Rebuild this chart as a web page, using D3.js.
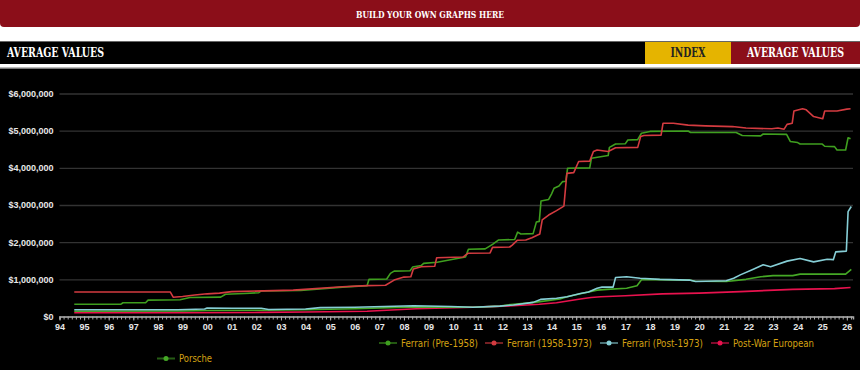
<!DOCTYPE html>
<html>
<head>
    <meta charset="utf-8">
    <script src="https://d3js.org/d3.v7.min.js"></script>
    <style>
        body { margin: 0; background: #fff; }
        svg { display: block; }
    </style>
</head>
<body>
    <div id="chart"></div>

    <script>
        // series names (legend order)
        const seriesNames = ['Ferrari (Pre-1958)', 'Ferrari (1958-1973)', 'Ferrari (Post-1973)', 'Post-War European', 'Porsche'];

        // [decimal year, average value in $]
        const ferrariPre1958 = [
            [1994.6, 330000], [1996.5, 330000], [1996.58, 370000], [1997.5, 370000], [1997.6, 440000],
            [1998.9, 450000], [1999.3, 510000], [2000.55, 520000], [2000.75, 600000], [2001.5, 620000],
            [2002.1, 640000], [2002.2, 690000], [2003.8, 700000], [2005.5, 790000], [2006.5, 830000],
            [2006.58, 1000000], [2007.3, 1010000], [2007.45, 1160000], [2007.6, 1220000], [2008.25, 1230000],
            [2008.35, 1330000], [2008.7, 1370000], [2008.8, 1430000], [2009.35, 1460000], [2010.0, 1540000],
            [2010.5, 1600000], [2010.62, 1810000], [2011.3, 1820000], [2011.6, 1940000], [2011.85, 2060000],
            [2012.5, 2070000], [2012.62, 2270000], [2012.75, 2220000], [2013.25, 2230000], [2013.38, 2540000],
            [2013.5, 2560000], [2013.57, 3110000], [2013.88, 3150000], [2014.0, 3300000], [2014.1, 3450000],
            [2014.3, 3510000], [2014.45, 3630000], [2014.58, 3640000], [2014.65, 3990000], [2015.55, 4000000],
            [2015.62, 4260000], [2016.3, 4330000], [2016.35, 4550000], [2016.6, 4640000], [2017.0, 4650000],
            [2017.1, 4750000], [2017.5, 4760000], [2017.65, 4930000], [2018.0, 4980000], [2019.55, 4990000],
            [2019.65, 4950000], [2021.5, 4950000], [2021.75, 4870000], [2022.5, 4860000], [2022.6, 4910000],
            [2023.55, 4900000], [2023.7, 4710000], [2024.0, 4680000], [2024.1, 4640000], [2025.0, 4640000],
            [2025.1, 4580000], [2025.5, 4570000], [2025.6, 4480000], [2025.95, 4480000], [2026.05, 4810000],
            [2026.15, 4780000]
        ];

        const ferrari1958to1973 = [
            [1994.6, 660000], [1998.5, 660000], [1998.62, 520000], [1999.0, 540000], [1999.5, 580000],
            [2000.0, 610000], [2000.5, 630000], [2001.0, 670000], [2002.3, 690000], [2003.5, 710000],
            [2005.5, 800000], [2006.5, 830000], [2007.25, 840000], [2007.6, 980000], [2008.0, 1060000],
            [2008.28, 1070000], [2008.38, 1280000], [2008.7, 1340000], [2009.25, 1350000], [2009.33, 1580000],
            [2010.4, 1600000], [2010.6, 1700000], [2011.5, 1710000], [2011.6, 1860000], [2012.3, 1870000],
            [2012.4, 1920000], [2012.6, 2050000], [2012.95, 2060000], [2013.2, 2120000], [2013.52, 2220000],
            [2013.62, 2600000], [2013.88, 2730000], [2014.2, 2850000], [2014.5, 2970000], [2014.62, 3850000],
            [2014.9, 3870000], [2015.1, 4170000], [2015.55, 4180000], [2015.7, 4440000], [2015.85, 4480000],
            [2016.3, 4440000], [2016.6, 4540000], [2017.5, 4550000], [2017.62, 4840000], [2017.75, 4870000],
            [2018.45, 4880000], [2018.53, 5200000], [2018.95, 5200000], [2019.55, 5150000], [2020.25, 5130000],
            [2021.35, 5110000], [2021.9, 5070000], [2022.95, 5050000], [2023.2, 5070000], [2023.45, 5040000],
            [2023.57, 5170000], [2023.78, 5200000], [2023.85, 5530000], [2024.2, 5590000], [2024.35, 5560000],
            [2024.65, 5380000], [2025.02, 5320000], [2025.1, 5530000], [2025.6, 5530000], [2026.0, 5580000],
            [2026.15, 5590000]
        ];

        const ferrariPost1973 = [
            [1994.6, 180000], [1998.8, 180000], [1999.9, 200000], [2000.0, 230000], [2001.0, 220000],
            [2002.2, 220000], [2002.5, 190000], [2004.0, 200000], [2004.6, 240000], [2006.0, 250000],
            [2008.4, 290000], [2009.9, 270000], [2010.8, 250000], [2011.9, 280000], [2012.45, 310000],
            [2013.25, 380000], [2013.55, 460000], [2014.2, 490000], [2014.63, 530000], [2015.17, 620000],
            [2015.5, 660000], [2015.85, 760000], [2016.05, 790000], [2016.5, 790000], [2016.6, 1050000],
            [2017.05, 1070000], [2017.6, 1030000], [2018.4, 1000000], [2019.6, 980000], [2019.85, 940000],
            [2021.1, 960000], [2021.4, 1030000], [2021.67, 1120000], [2022.2, 1270000], [2022.6, 1390000],
            [2022.9, 1340000], [2023.57, 1490000], [2024.1, 1560000], [2024.65, 1470000], [2025.2, 1540000],
            [2025.45, 1530000], [2025.55, 1740000], [2025.98, 1760000], [2026.05, 2820000], [2026.18, 2960000]
        ];

        const postWarEuropean = [
            [1994.6, 100000], [1999.0, 100000], [2002.2, 110000], [2004.0, 120000], [2006.5, 140000],
            [2008.5, 210000], [2011.2, 260000], [2012.45, 290000], [2013.5, 330000], [2014.2, 370000],
            [2015.17, 470000], [2015.6, 510000], [2016.0, 530000], [2017.0, 560000], [2018.5, 610000],
            [2020.0, 630000], [2021.67, 670000], [2023.8, 730000], [2025.5, 750000], [2026.15, 780000]
        ];

        const porsche = [
            [1994.6, 140000], [1999.0, 150000], [2000.0, 160000], [2002.2, 170000], [2004.0, 180000],
            [2006.0, 210000], [2008.4, 260000], [2010.8, 250000], [2011.9, 280000], [2012.2, 310000],
            [2013.0, 360000], [2013.53, 400000], [2014.34, 470000], [2014.63, 530000], [2015.17, 610000],
            [2015.85, 710000], [2016.25, 730000], [2017.05, 760000], [2017.47, 830000], [2017.67, 1000000],
            [2019.6, 980000], [2019.85, 950000], [2021.1, 940000], [2021.9, 1000000], [2022.5, 1070000],
            [2023.0, 1100000], [2023.8, 1100000], [2024.1, 1140000], [2025.95, 1140000], [2026.18, 1270000]
        ];

        const yTickValues = [0, 1000000, 2000000, 3000000, 4000000, 5000000, 6000000];
        const yearTicks = [1994, 1995, 1996, 1997, 1998, 1999, 2000, 2001, 2002, 2003, 2004, 2005, 2006, 2007,
            2008, 2009, 2010, 2011, 2012, 2013, 2014, 2015, 2016, 2017, 2018, 2019, 2020, 2021, 2022, 2023,
            2024, 2025, 2026];

        const series = [
            {name: seriesNames[0], values: ferrariPre1958, color: '#3f9f1f'},
            {name: seriesNames[1], values: ferrari1958to1973, color: '#d43b40'},
            {name: seriesNames[2], values: ferrariPost1973, color: '#86ced6'},
            {name: seriesNames[3], values: postWarEuropean, color: '#e8124e'},
            {name: seriesNames[4], values: porsche, color: '#45a826'}
        ];

        const width = 860;
        const height = 370;

        const svg = d3.select('#chart')
            .append('svg')
            .attr('width', width)
            .attr('height', height);

        const slab = '"DejaVu Serif Condensed", "DejaVu Serif", serif';

        // header button
        svg.append('rect')
            .attr('x', 0).attr('y', -4).attr('width', width).attr('height', 31)
            .attr('rx', 4).attr('fill', '#8b0e19');
        svg.append('text')
            .attr('x', width / 2).attr('y', 17.5)
            .attr('text-anchor', 'middle')
            .attr('font-family', slab).attr('font-weight', 'bold').attr('font-size', 10)
            .attr('textLength', 148).attr('lengthAdjust', 'spacingAndGlyphs')
            .attr('fill', '#fff')
            .text('BUILD YOUR OWN GRAPHS HERE');

        // title bar
        svg.append('rect').attr('x', 0).attr('y', 41).attr('width', width).attr('height', 1.5).attr('fill', '#666');
        svg.append('rect').attr('x', 0).attr('y', 42).attr('width', width).attr('height', 22).attr('fill', '#000');
        svg.append('rect').attr('x', 645).attr('y', 42).attr('width', 86).attr('height', 22).attr('fill', '#e5b400');
        svg.append('rect').attr('x', 731).attr('y', 42).attr('width', 129).attr('height', 22).attr('fill', '#8b0e19');

        const barLabels = [
            {text: 'AVERAGE VALUES', x: 7, anchor: 'start', len: 97, fill: '#fff'},
            {text: 'INDEX', x: 688, anchor: 'middle', len: 35, fill: '#222'},
            {text: 'AVERAGE VALUES', x: 795.5, anchor: 'middle', len: 97, fill: '#fff'}
        ];
        svg.selectAll('.barLabel')
            .data(barLabels)
            .enter()
            .append('text')
            .attr('x', d => d.x).attr('y', 57)
            .attr('text-anchor', d => d.anchor)
            .attr('font-family', slab).attr('font-weight', 'bold').attr('font-size', 12)
            .attr('textLength', d => d.len).attr('lengthAdjust', 'spacingAndGlyphs')
            .attr('fill', d => d.fill)
            .text(d => d.text);

        // chart panel
        svg.append('rect').attr('x', 0).attr('y', 67.5).attr('width', width).attr('height', 1.5).attr('fill', '#777');
        svg.append('rect').attr('x', 0).attr('y', 69).attr('width', width).attr('height', height - 69).attr('fill', '#000');

        // scales
        const xScale = d3.scaleLinear()
            .domain([1994, 2026.25])
            .range([59.5, 853]);

        const yScale = d3.scaleLinear()
            .domain([0, 6000000])
            .range([316.5, 93.5]);

        // gridlines
        svg.append('g')
            .attr('transform', 'translate(59.5,0)')
            .call(d3.axisLeft(yScale).tickValues(yTickValues).tickSize(-(853 - 59.5)).tickFormat(''))
            .call(g => g.select('.domain').remove())
            .call(g => g.selectAll('line').attr('stroke', '#333').attr('stroke-width', 1.3));

        // y labels
        svg.append('g')
            .attr('transform', 'translate(59.5,0)')
            .call(d3.axisLeft(yScale).tickValues(yTickValues).tickSize(0).tickPadding(6)
                .tickFormat(d => '$' + d3.format(',')(d)))
            .call(g => g.select('.domain').remove())
            .call(g => g.selectAll('text')
                .attr('fill', '#e8e8e8')
                .attr('font-family', '"Liberation Sans", Arial, sans-serif')
                .attr('font-weight', 'bold')
                .attr('font-size', 9));

        // x axis: minor ticks every two months
        const minorTicks = d3.range(1994, 2026.26, 1 / 6);
        svg.append('g')
            .attr('transform', 'translate(0,316.5)')
            .call(d3.axisBottom(xScale).tickValues(minorTicks).tickSize(3).tickFormat(''))
            .call(g => g.select('.domain').attr('stroke', '#aaa').attr('stroke-width', 1.5))
            .call(g => g.selectAll('line').attr('stroke', '#aaa'));

        svg.append('g')
            .attr('transform', 'translate(0,316.5)')
            .call(d3.axisBottom(xScale).tickValues(yearTicks).tickSize(4).tickPadding(3)
                .tickFormat(d => String(d).slice(2)))
            .call(g => g.select('.domain').remove())
            .call(g => g.selectAll('line').attr('stroke', '#aaa'))
            .call(g => g.selectAll('text')
                .attr('fill', '#e8e8e8')
                .attr('font-family', '"Liberation Sans", Arial, sans-serif')
                .attr('font-weight', 'bold')
                .attr('font-size', 9));

        // lines
        const line = d3.line()
            .x(d => xScale(d[0]))
            .y(d => yScale(d[1]));

        const drawOrder = [3, 4, 2, 0, 1];
        svg.selectAll('.series')
            .data(drawOrder.map(i => series[i]))
            .enter()
            .append('path')
            .attr('d', d => line(d.values))
            .attr('fill', 'none')
            .attr('stroke', d => d.color)
            .attr('stroke-width', 1.6)
            .attr('stroke-linejoin', 'round');

        // legend
        const legendPos = [
            {x: 379, y: 343, w: 77},
            {x: 485, y: 343, w: 85},
            {x: 600, y: 343, w: 81},
            {x: 711, y: 343, w: 81},
            {x: 157, y: 358.5, w: 33}
        ];
        const legend = svg.selectAll('.legend')
            .data(series)
            .enter()
            .append('g')
            .attr('transform', (d, i) => `translate(${legendPos[i].x},${legendPos[i].y})`);

        legend.append('line')
            .attr('x1', 0).attr('x2', 18).attr('y1', 0).attr('y2', 0)
            .attr('stroke', d => d.color).attr('stroke-opacity', 0.55).attr('stroke-width', 2);
        legend.append('circle')
            .attr('cx', 9).attr('cy', 0).attr('r', 2.5)
            .attr('fill', d => d.color);
        legend.append('text')
            .attr('x', 22).attr('y', 3.5)
            .attr('font-family', '"DejaVu Sans Condensed", "DejaVu Sans", sans-serif')
            .attr('font-size', 10)
            .attr('textLength', (d, i) => legendPos[i].w)
            .attr('lengthAdjust', 'spacingAndGlyphs')
            .attr('fill', '#d4a012')
            .text(d => d.name);
    </script>
</body>
</html>
